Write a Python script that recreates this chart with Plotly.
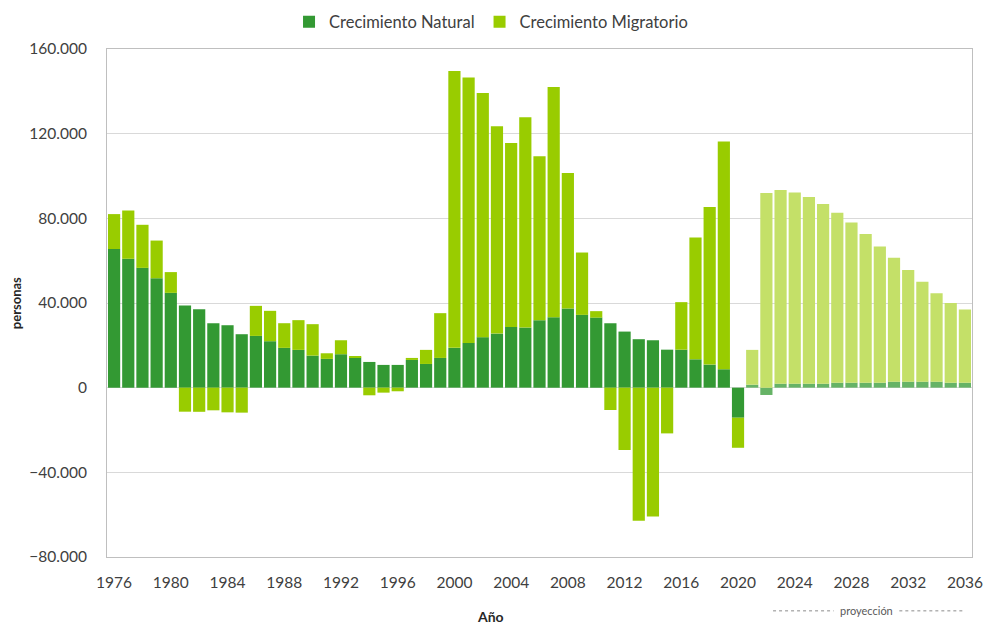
import plotly.graph_objects as go

years = list(range(1976, 2037))

natural = [
    65500, 60900, 56600, 51700, 44800, 38800, 37100, 30450, 29500, 25250,
    24450, 21950, 18800, 17850, 15150, 13600, 15800, 14200, 12150, 10750,
    10750, 13100, 11200, 14050, 18800, 21150, 23850, 25550, 28700, 28400,
    31900, 33300, 37350, 34400, 33100, 30450, 26500, 22900, 22400, 17950,
    17950, 13400, 10900, 8700, -14200, 1400, -3450, 1900, 1900, 1900,
    1900, 2350, 2350, 2350, 2350, 2850, 2850, 2850, 2850, 2350,
    2350,
]

migratorio = [
    16500, 22800, 20350, 17800, 9800, -11350, -11400, -10700, -11650, -11800,
    14200, 14350, 11650, 14050, 14850, 2650, 6600, 400, -3600, -2350,
    -1700, 950, 6650, 21150, 130850, 125350, 115400, 97900, 86900, 99300,
    77400, 108800, 64050, 29450, 3050, -10550, -29450, -62900, -60850, -21600,
    22450, 57550, 74400, 107650, -14200, 16450, 91950, 91450, 90350, 88150,
    84850, 80300, 75700, 70200, 64350, 58500, 52700, 47150, 41800, 37700,
    34550,
]

y_ticks = [-80000, -40000, 0, 40000, 80000, 120000, 160000]
first_projection_year = 2021

nat_colors = ["#339933" if y < first_projection_year else "#66B366" for y in years]
mig_colors = ["#99CC00" if y < first_projection_year else "#C4E068" for y in years]

fig = go.Figure()
fig.add_trace(go.Bar(
    x=years, y=natural, name="Crecimiento Natural",
    marker=dict(color=nat_colors, line=dict(width=0)),
))
fig.add_trace(go.Bar(
    x=years, y=migratorio, name="Crecimiento Migratorio",
    marker=dict(color=mig_colors, line=dict(width=0)),
))

font_family = "Lato, 'Open Sans', sans-serif"

fig.update_layout(
    template="none",
    barmode="relative",
    bargap=0.14,
    separators=",.",
    width=986, height=624,
    margin=dict(l=107, r=14, t=49, b=67, autoexpand=False),
    paper_bgcolor="white",
    plot_bgcolor="white",
    font=dict(family=font_family, size=15, color="#404040"),
    showlegend=True,
    legend=dict(
        orientation="h", xref="container", yref="container",
        x=0.498, xanchor="center", y=1 - 22 / 624, yanchor="middle",
        font=dict(size=16.5, color="#404040"),
        traceorder="normal", itemwidth=30,
        bgcolor="rgba(0,0,0,0)",
    ),
    xaxis=dict(
        automargin=False,
        range=[1975.5, 2036.5],
        tickmode="linear", tick0=1976, dtick=4,
        showgrid=False, zeroline=False,
        showline=True, linecolor="#BFBFBF", linewidth=1, mirror=True,
        ticks="outside", ticklen=11, tickcolor="rgba(0,0,0,0)",
        tickfont=dict(size=15.5, color="#404040"),
    ),
    yaxis=dict(
        automargin=False,
        range=[-80000, 160000],
        tickvals=y_ticks, tickformat=",d",
        showgrid=True, gridcolor="#D9D9D9", gridwidth=1,
        zeroline=False,
        showline=True, linecolor="#BFBFBF", linewidth=1, mirror=True,
        ticks="outside", ticklen=16, tickcolor="rgba(0,0,0,0)",
        tickfont=dict(size=15.5, color="#404040"),
    ),
    annotations=[
        dict(text="<b>personas</b>", xref="paper", yref="paper",
             x=-0.105, y=0.5, xanchor="center", yanchor="middle",
             textangle=-90, showarrow=False,
             font=dict(size=13, color="#262626")),
        dict(text="<b>Año</b>", xref="paper", yref="paper",
             x=0.443, y=-0.118, xanchor="center", yanchor="middle",
             showarrow=False, font=dict(size=14, color="#262626")),
        dict(text="proyección", xref="paper", yref="paper",
             x=0.8786, y=-0.106, xanchor="center", yanchor="middle",
             showarrow=False, font=dict(size=11, color="#595959")),
    ],
    shapes=[
        dict(type="line", xref="paper", yref="paper",
             x0=0.770, x1=0.840, y0=-0.106, y1=-0.106,
             line=dict(color="#8C8C8C", width=1, dash="dot")),
        dict(type="line", xref="paper", yref="paper",
             x0=0.916, x1=0.992, y0=-0.106, y1=-0.106,
             line=dict(color="#8C8C8C", width=1, dash="dot")),
    ],
)

fig.write_html(
    "out.html",
    config={"displayModeBar": False},
    post_script="document.body.style.margin='0';document.body.style.overflow='hidden';",
)
